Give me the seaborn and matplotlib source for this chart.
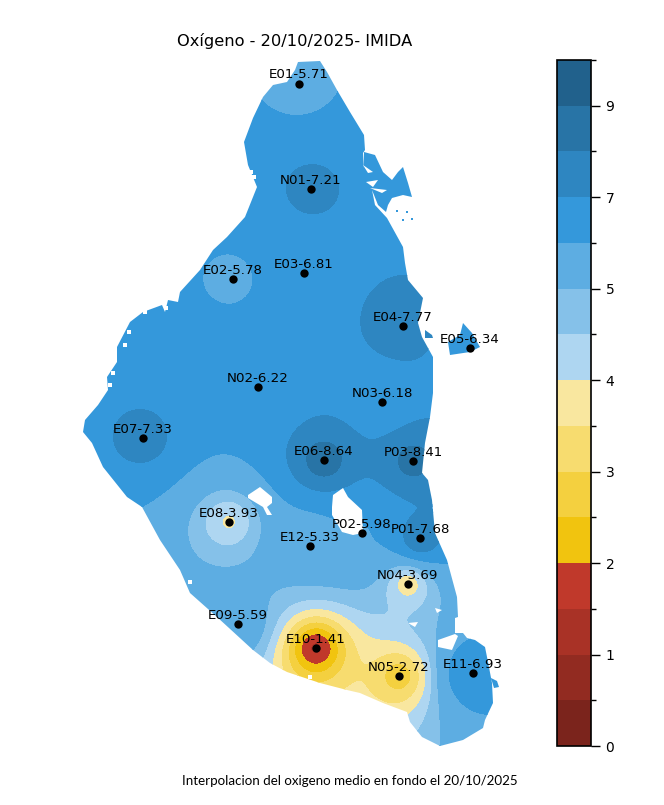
import numpy as np
import seaborn as sns
import pandas as pd
import matplotlib
matplotlib.use("Agg")
import matplotlib.pyplot as plt
from matplotlib.path import Path
from matplotlib.patches import PathPatch
from matplotlib.colors import ListedColormap

# stations (x, y in image pixels)
names = ["E01", "N01", "E02", "E03", "E04", "E05", "N02", "N03", "E07", "E06",
         "P03", "E08", "E12", "P02", "P01", "N04", "E09", "E10", "N05", "E11"]
oxygen = [5.71, 7.21, 5.78, 6.81, 7.77, 6.34, 6.22, 6.18, 7.33, 8.64,
          8.41, 3.93, 5.33, 5.98, 7.68, 3.69, 5.59, 1.41, 2.72, 6.93]
dot_x = [299, 311, 233, 304, 403, 470, 258, 382, 143, 324,
         413, 229, 310, 362, 420, 408, 238, 316, 399, 473]
dot_y = [84, 189, 279, 273, 326, 348, 387, 402, 438, 460,
         461, 522, 546, 533, 538, 584, 624, 648, 676, 673]

levels = [0, 0.5, 1, 1.5, 2, 2.5, 3, 3.5, 4, 4.5, 5, 6, 7, 8, 9, 10]
colours = ["#7b241c", "#922b21", "#a93226", "#c0392b", "#f1c40f", "#f4d03f", "#f7dc6f", "#f9e79f",
           "#aed6f1", "#85c1e9", "#5dade2", "#3498db", "#2e86c1", "#2874a6", "#21618c"]
major_ticks = [0, 1, 2, 3, 4, 5, 7, 9]
minor_ticks = [0.5, 1.5, 2.5, 3.5, 4.5, 6, 8, 10]

# coast of the lagoon (clockwise from the north tip)
coast = [(298, 62), (320, 61), (327, 72), (337, 90), (350, 112), (364, 135), (365, 150), (363, 153),
         (364, 168), (372, 190), (375, 205), (387, 218), (403, 247), (405, 263), (408, 280), (423, 298),
         (418, 323), (422, 337), (433, 357), (433, 393), (430, 417), (425, 443), (422, 473), (428, 480),
         (432, 500), (435, 533), (447, 560), (457, 597), (458, 617), (455, 618), (455, 633), (463, 633),
         (467, 638), (475, 640), (485, 647), (488, 662), (492, 683), (493, 703), (485, 720), (483, 728),
         (463, 740), (440, 746), (422, 737), (410, 722), (407, 712), (383, 703), (360, 693), (347, 690),
         (320, 683), (287, 672), (270, 663), (253, 650), (217, 617), (190, 593), (180, 570), (160, 540),
         (142, 507), (127, 497), (103, 467), (92, 443), (83, 432), (85, 420), (98, 405), (108, 390),
         (107, 377), (117, 362), (117, 347), (130, 322), (143, 312), (162, 305), (165, 312), (168, 300),
         (178, 302), (180, 292), (200, 270), (213, 250), (227, 237), (245, 217), (253, 197), (257, 187),
         (248, 165), (244, 142), (253, 118), (263, 97), (273, 85), (287, 82), (295, 70), (298, 62)]
# water outside the main body
north_east = [(364, 152), (375, 155), (383, 172), (392, 180), (398, 172), (403, 167), (408, 183), (412, 197),
              (403, 195), (392, 198), (388, 205), (386, 212), (378, 205), (372, 190), (364, 168), (364, 152)]
east_bits = [(425, 330), (432, 335), (433, 338), (425, 338), (425, 330)]
e05_island = [(463, 323), (472, 333), (480, 347), (470, 352), (450, 355), (448, 342), (460, 335), (463, 323)]
e11_bit = [(491, 678), (497, 681), (499, 687), (494, 688), (491, 678)]
# land inside the lagoon
land = [[(248, 495), (260, 487), (272, 497), (272, 503), (267, 507), (272, 515), (267, 515), (263, 507), (248, 498)],
        [(332, 507), (333, 495), (343, 488), (348, 497), (362, 510), (363, 533), (353, 535), (342, 532), (332, 515)],
        [(435, 608), (442, 610), (437, 613)],
        [(408, 623), (418, 622), (415, 627)],
        [(438, 640), (455, 634), (458, 636), (452, 650), (438, 647)],
        [(363, 165), (373, 172), (368, 173)],
        [(366, 182), (378, 180), (373, 187)],
        [(370, 188), (387, 190), (382, 193)]]
# specks along the coast
speck_x = [145, 129, 125, 113, 110, 251, 254, 310, 190, 166]
speck_y = [312, 332, 345, 373, 385, 172, 177, 677, 582, 308]
islet_x = [397, 407, 403, 412]
islet_y = [211, 212, 220, 219]

sns.set_style("white")
plt.rcParams["text.color"] = "black"
plt.rcParams["xtick.color"] = "black"
plt.rcParams["ytick.color"] = "black"
fig = plt.figure(figsize=(6.64, 8.05), dpi=100)
ax = fig.add_axes([0, 0, 1, 1])

# inverse distance weighting over a pixel grid
gx, gy = np.meshgrid(np.arange(60, 520, 1.0), np.arange(50, 760, 1.0))
wsum = np.zeros_like(gx)
vsum = np.zeros_like(gx)
for x, y, v in zip(dot_x, dot_y, oxygen):
    w = 1.0 / ((gx - x) ** 2 + (gy - y) ** 2 + 1.0)
    wsum += w
    vsum += w * v
field = vsum / wsum

cmap = ListedColormap(sns.color_palette(colours))
cs = ax.contourf(gx, gy, field, levels=levels, colors=[cmap(i) for i in range(len(colours))])

verts = []
codes = []
for pts in [coast, north_east, east_bits, e05_island, e11_bit]:
    verts += pts
    codes += [Path.MOVETO] + [Path.LINETO] * (len(pts) - 1)
clip = PathPatch(Path(verts, codes), transform=ax.transData, fc="none", ec="none")
ax.add_patch(clip)
cs.set_clip_path(clip)

for pts in land:
    ax.fill([p[0] for p in pts], [p[1] for p in pts], color="white", lw=0, zorder=3)

sns.scatterplot(x=speck_x, y=speck_y, ax=ax, color="white", marker="s", s=5, linewidth=0, zorder=3, legend=False)
sns.scatterplot(x=islet_x, y=islet_y, ax=ax, color=colours[11], marker="s", s=4, linewidth=0, zorder=3, legend=False)

stations = pd.DataFrame({"x": dot_x, "y": dot_y})
sns.scatterplot(data=stations, x="x", y="y", ax=ax, color="black", s=36, linewidth=0, zorder=4, legend=False)
ax.set_xlim(0, 664)
ax.set_ylim(805, 0)
ax.axis("off")

for n, v, x, y in zip(names, oxygen, dot_x, dot_y):
    ax.text(x, y - 9, "%s-%.2f" % (n, v), ha="center", va="center", fontsize=9.6, color="black", zorder=5)

fig.text(294.5 / 664, 1 - 41 / 805, "Oxígeno - 20/10/2025- IMIDA", ha="center", va="center", fontsize=11.7)
fig.text(349.5 / 664, 1 - 781 / 805, "Interpolacion del oxigeno medio en fondo el 20/10/2025",
         ha="center", va="center", fontsize=9.6, family="Lato")

cax = fig.add_axes([557 / 664, 1 - 746 / 805, 34 / 664, 686 / 805])
cb = fig.colorbar(cs, cax=cax, spacing="uniform")
cb.set_ticks(major_ticks)
cb.set_ticklabels([str(t) for t in major_ticks])
cb.ax.yaxis.set_ticks(minor_ticks, minor=True)
cb.ax.tick_params(which="major", length=6.5, width=1, labelsize=10, right=True, pad=4)
cb.ax.tick_params(which="minor", length=3.5, width=1, right=True)
cb.outline.set_linewidth(1.2)
cb.outline.set_edgecolor("black")

fig.savefig("out.png", dpi=100)
